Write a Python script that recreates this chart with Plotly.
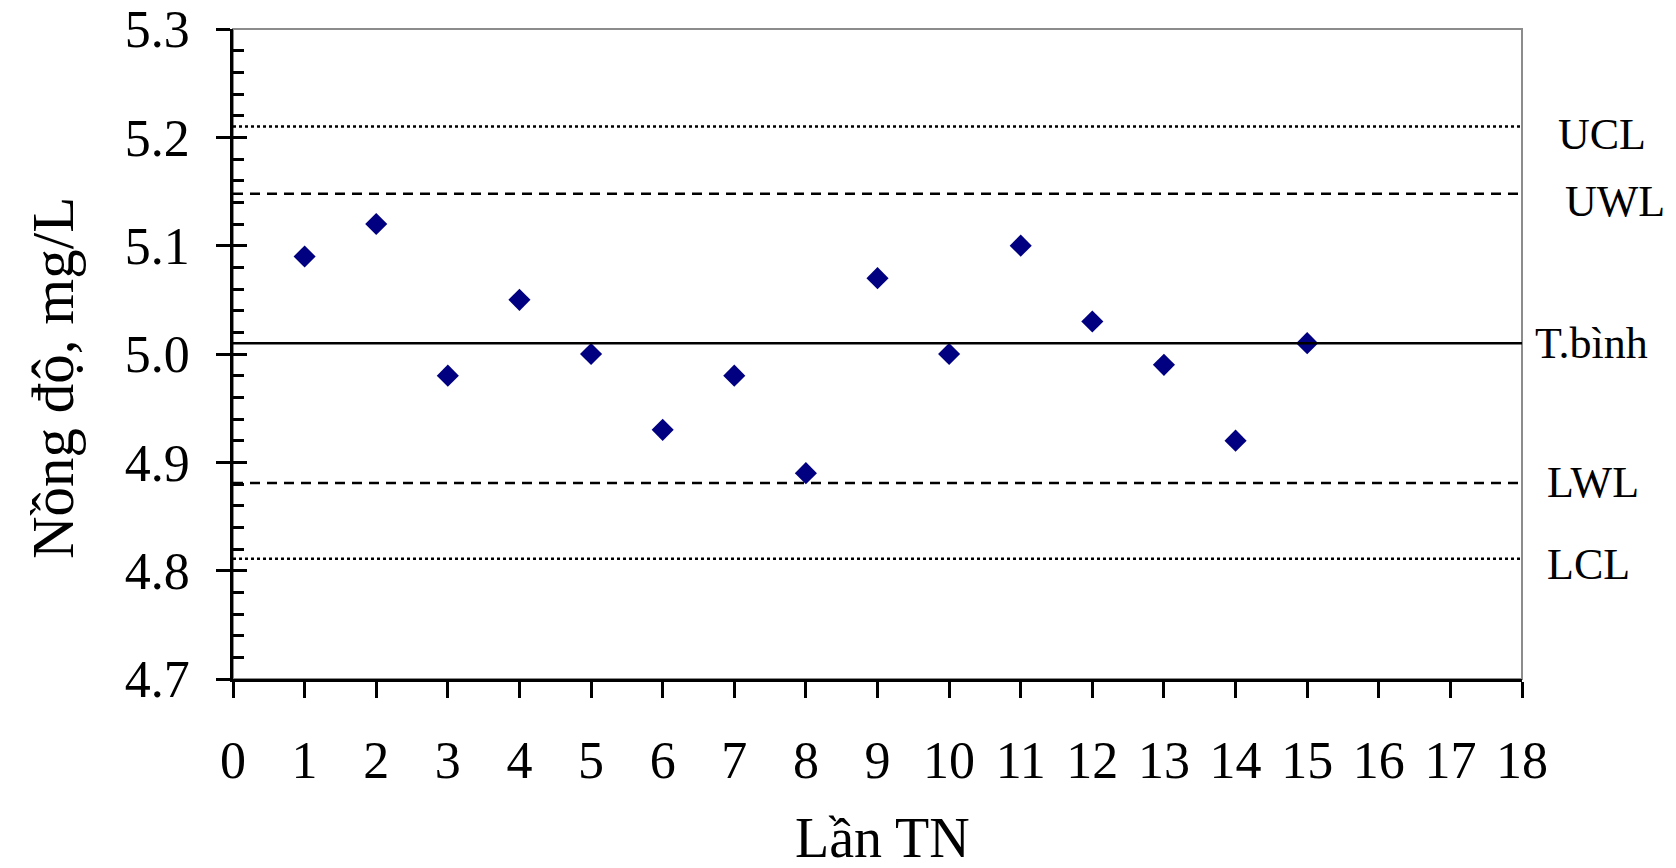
import plotly.graph_objects as go

# ---- data ----
runs = list(range(1, 16))
conc = [5.09, 5.12, 4.98, 5.05, 5.00, 4.93, 4.98, 4.89, 5.07, 5.00, 5.10, 5.03, 4.99, 4.92, 5.01]

limit_names = ["UCL", "UWL", "T.bình", "LWL", "LCL"]
limit_values = [5.21, 5.148, 5.01, 4.881, 4.811]
limit_dash = ["3px,3px", "10px,7px", "solid", "10px,7px", "3px,3px"]
label_xshift = [34, 41, 11, 23, 23]
label_yshift = [-8, -8, 0, 0, -6]

x_range = [0, 18]
y_range = [4.7, 5.3]

FONT = "Liberation Serif, Times New Roman, serif"

fig = go.Figure()

fig.add_trace(go.Scatter(
    x=runs, y=conc, mode="markers",
    marker=dict(symbol="diamond", size=17, color="#000080", line=dict(width=0)),
    showlegend=False, hoverinfo="x+y",
))
# invisible trace to carry the inner (minor) tick axis
fig.add_trace(go.Scatter(x=[None], y=[None], yaxis="y2", showlegend=False, hoverinfo="skip"))

for name, val, dash, xs, ys in zip(limit_names, limit_values, limit_dash, label_xshift, label_yshift):
    fig.add_hline(y=val, line=dict(color="black", width=2.5, dash=dash))
    fig.add_annotation(
        x=1, xref="x domain", y=val, yref="y", text=name, showarrow=False,
        xanchor="left", yanchor="middle", xshift=xs, yshift=ys,
        font=dict(family=FONT, size=44, color="black"),
    )

# gray frame (top/right)
fig.add_shape(type="rect", xref="x domain", yref="y domain", x0=0, x1=1, y0=0, y1=1,
              line=dict(color="#8c8c8c", width=2), layer="below")

# axis titles
fig.add_annotation(
    x=0, xref="x domain", y=0.5, yref="y domain", text="Nồng độ, mg/L", showarrow=False,
    textangle=-90, xanchor="center", yanchor="middle", xshift=-180, yshift=-24,
    font=dict(family=FONT, size=59, color="black"),
)
fig.add_annotation(
    x=0.5, xref="x domain", y=0, yref="y domain", text="Lần TN", showarrow=False,
    xanchor="center", yanchor="top", xshift=5, yshift=-126,
    font=dict(family=FONT, size=56, color="black"),
)

fig.update_layout(
    width=1676, height=868,
    margin=dict(l=233, r=154, t=29, b=189),
    paper_bgcolor="white", plot_bgcolor="white",
    font=dict(family=FONT, size=52, color="black"),
    xaxis=dict(
        range=x_range, tick0=0, dtick=1, ticks="outside", ticklen=16, tickwidth=2.5,
        tickcolor="black", showline=True, linewidth=2.5, linecolor="black",
        showgrid=False, zeroline=False, ticklabelstandoff=18, automargin=False,
        tickfont=dict(family=FONT, size=52, color="black"),
    ),
    yaxis=dict(
        range=y_range, tick0=4.7, dtick=0.1, tickformat=".1f", ticks="outside", ticklen=14,
        tickwidth=2.5, tickcolor="black", showline=True, linewidth=2.5, linecolor="black",
        showgrid=False, zeroline=False, ticklabelstandoff=16, automargin=False,
        tickfont=dict(family=FONT, size=52, color="black"),
    ),
    yaxis2=dict(
        range=y_range, overlaying="y", side="left", tick0=4.7, dtick=0.1, ticks="inside",
        ticklen=14, tickwidth=2.5, tickcolor="black", showticklabels=False, showline=False,
        showgrid=False, zeroline=False, automargin=False,
        minor=dict(ticks="inside", ticklen=11, tickwidth=2.5, tickcolor="black", dtick=0.02, tick0=4.7),
    ),
)

fig.write_html("out.html")
